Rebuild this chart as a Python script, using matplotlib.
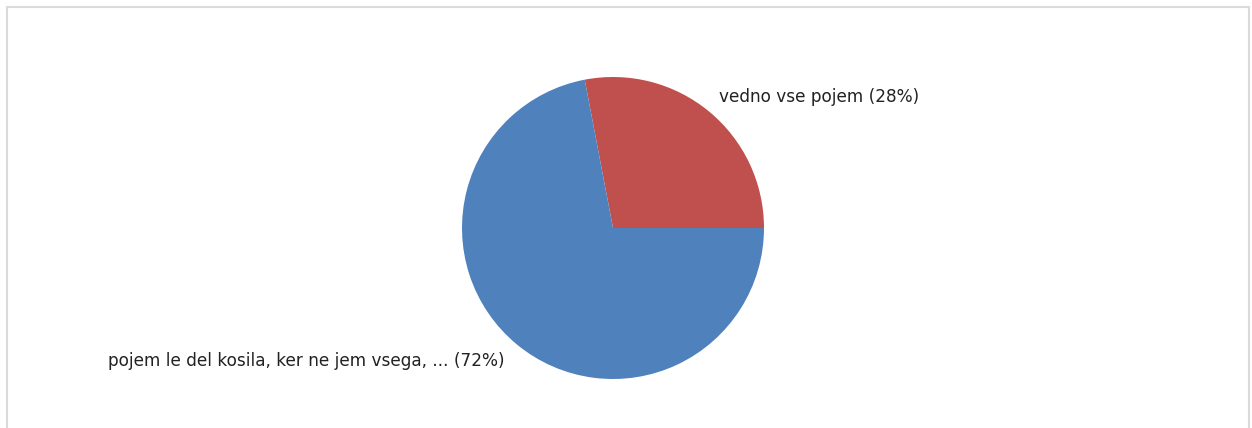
import matplotlib.pyplot as plt
from matplotlib.patches import Rectangle

# answer shares in percent
labels = ["vedno vse pojem", "pojem le del kosila, ker ne jem vsega, ..."]
shares = [28, 72]
colors = ["#C0504D", "#4F81BD"]

W, H = 1252, 428
fig = plt.figure(figsize=(W / 100, H / 100), dpi=100)
ax = fig.add_axes([0, 0, 1, 1])
ax.set_xlim(0, W)
ax.set_ylim(0, H)
ax.set_aspect("equal")
ax.axis("off")

# light frame around the chart area (open at the bottom edge)
ax.add_patch(Rectangle((7, -10), 1242, H - 7 + 10, fill=False,
                       edgecolor="#DADADA", linewidth=1.5))

ax.pie(shares, colors=colors, startangle=0, counterclock=True,
       center=(613, H - 228), radius=151,
       wedgeprops=dict(linewidth=0))

ax.set_xlim(0, W)
ax.set_ylim(0, H)

font = dict(fontsize=12.2, color="#222222", family="DejaVu Sans", va="center")
ax.text(719, H - 97, f"{labels[0]} ({shares[0]}%)", ha="left", **font)
ax.text(504, H - 361, f"{labels[1]} ({shares[1]}%)", ha="right", **font)

fig.savefig("out.png", dpi=100)
